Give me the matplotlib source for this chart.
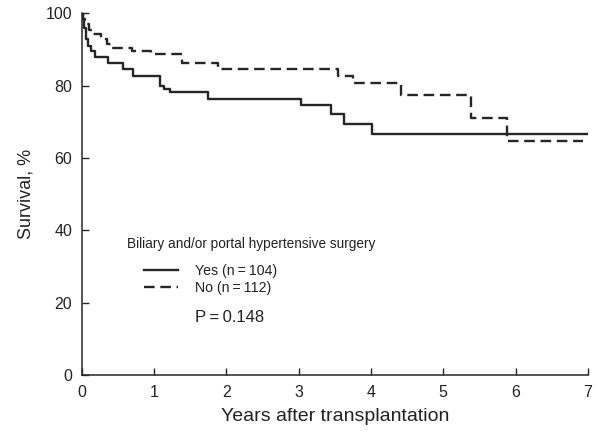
import numpy as np
import matplotlib
matplotlib.use('Agg')
import matplotlib.pyplot as plt

plt.rcParams['font.family'] = ['Liberation Sans', 'DejaVu Sans']

# Kaplan-Meier steps (years, survival %)
yes_t = [0, 0.01, 0.03, 0.05, 0.08, 0.12, 0.18, 0.36, 0.57, 0.71, 1.08, 1.13, 1.22,
         1.74, 3.03, 3.45, 3.63, 4.01, 7.0]
yes_s = [100, 98.5, 96, 93, 91, 89.5, 88, 86.2, 84.6, 82.6, 80, 79, 78.4,
         76.3, 74.6, 72.3, 69.3, 66.8, 66.8]

no_t = [0, 0.01, 0.04, 0.10, 0.15, 0.27, 0.35, 0.42, 0.69, 0.95, 1.38, 1.88,
        3.54, 3.75, 4.41, 5.38, 5.88, 6.93]
no_s = [100, 98.5, 97, 95.5, 94.3, 93, 91.5, 90.5, 89.6, 88.7, 86.2, 84.6,
        82.8, 80.9, 77.4, 71, 64.6, 64.6]

x_ticks = [0, 1, 2, 3, 4, 5, 6, 7]
y_ticks = [0, 20, 40, 60, 80, 100]

col = '#262626'
txt = '#222222'

fig = plt.figure(figsize=(6.01, 4.44), dpi=100)
ax = fig.add_axes([0.1364, 0.1554, 0.978 - 0.1364, 0.9696 - 0.1554])

l1, = ax.step(yes_t, yes_s, where='post', color=col, lw=1.7)
l2, = ax.step(no_t, no_s, where='post', color=col, lw=1.7, dashes=(4.5, 2.4))

ax.set_xlim(0, 7)
ax.set_ylim(0, 100)
ax.set_xticks(x_ticks)
ax.set_yticks(y_ticks)
ax.tick_params(direction='in', length=5, width=1, colors=col, labelsize=11.5,
               labelcolor=txt, pad=7)
for s in ['top', 'right']:
    ax.spines[s].set_visible(False)
for s in ['left', 'bottom']:
    ax.spines[s].set_color(col)
    ax.spines[s].set_linewidth(1.1)

ax.set_xlabel('Years after transplantation', fontsize=14, color=txt, labelpad=6)
ax.set_ylabel('Survival, %', fontsize=13, color=txt, labelpad=8)

ax.text(0.09, 0.363, 'Biliary and/or portal hypertensive surgery', transform=ax.transAxes,
        fontsize=9.8, color=txt, va='center')
ax.legend([l1, l2], ['Yes (n\u2009=\u2009104)', 'No (n\u2009=\u2009112)'],
          loc='upper left', bbox_to_anchor=(0.112, 0.322), frameon=False,
          fontsize=10.2, handlelength=2.4, handletextpad=1.2, labelspacing=0.22,
          borderaxespad=0, labelcolor=txt)
ax.text(0.223, 0.158, 'P\u2009=\u20090.148', transform=ax.transAxes,
        fontsize=12, color=txt, va='center')

fig.savefig('out.png', dpi=100)
